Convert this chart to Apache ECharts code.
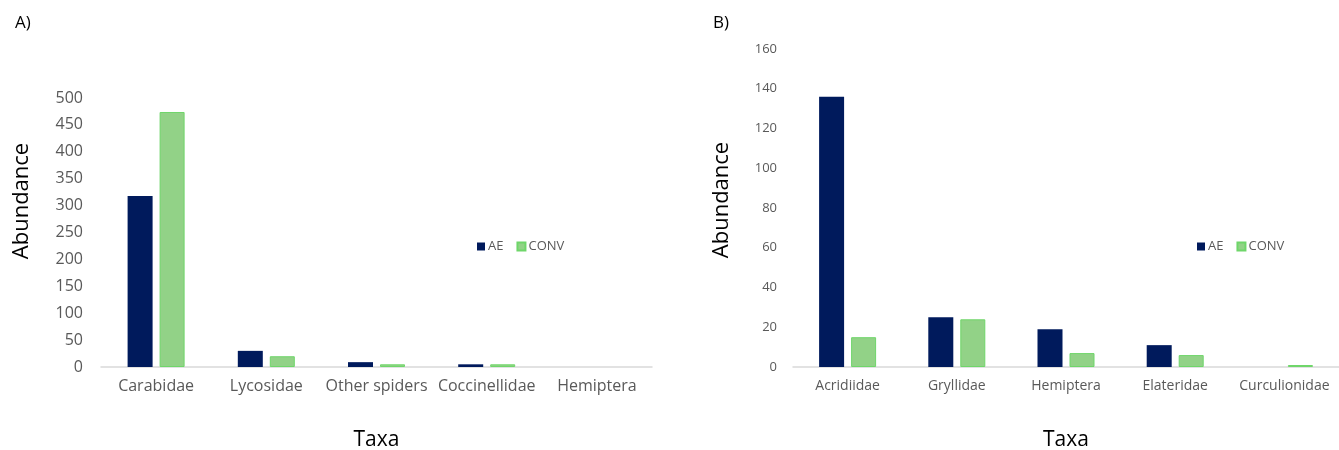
<!DOCTYPE html>
<html><head><meta charset="utf-8">
<script src="https://cdn.jsdelivr.net/npm/echarts@6/dist/echarts.min.js"></script>
<style>html,body{margin:0;padding:0;background:#fff;overflow:hidden}#c{width:1339px;height:450px}</style>
</head><body><div id="c"></div>
<script>
const seriesNames = ['AE', 'CONV'];
const catsA = ['Carabidae', 'Lycosidae', 'Other spiders', 'Coccinellidae', 'Hemiptera'];
const aeA = [318, 30, 9, 5, 0];
const convA = [474, 20, 5, 5, 0];
const catsB = ['Acridiidae', 'Gryllidae', 'Hemiptera', 'Elateridae', 'Curculionidae'];
const aeB = [136, 25, 19, 11, 0];
const convB = [15, 24, 7, 6, 1];

const AE_COLOR = '#001a5c';
const CONV_COLOR = '#92d287';
const CONV_BORDER = '#6fd66a';
const FONT = '"Open Sans", "Noto Sans", sans-serif';

const chart = echarts.init(document.getElementById('c'), null, {renderer: 'canvas', width: 1339, height: 450});

function yAxis(idx, max, interval, fs) {
  return {
    gridIndex: idx, type: 'value', min: 0, max: max, interval: interval,
    axisLine: {show: false}, axisTick: {show: false}, splitLine: {show: false},
    axisLabel: {fontFamily: FONT, fontSize: fs, color: '#595959', margin: idx === 0 ? 18 : 16}
  };
}
function xAxis(idx, cats, fs) {
  return {
    gridIndex: idx, type: 'category', data: cats,
    name: 'Taxa', nameLocation: 'middle', nameGap: 63,
    nameTextStyle: {fontFamily: FONT, fontSize: 21, color: '#000'},
    axisLine: {show: true, lineStyle: {color: '#d9d9d9', width: 1.5}},
    axisTick: {show: false},
    axisLabel: {fontFamily: FONT, fontSize: fs, color: '#595959', margin: idx === 0 ? 11 : 12, interval: 0}
  };
}
function bars(name, data, idx, color, border) {
  return {
    name: name, type: 'bar', xAxisIndex: idx, yAxisIndex: idx,
    data: data.map(v => border && v === 0 ? {value: v, itemStyle: {borderWidth: 0}} : v),
    barWidth: 25, barGap: '28%',
    itemStyle: {color: color, borderColor: border || color, borderWidth: border ? 1 : 0},
    emphasis: {disabled: true}
  };
}
function yTitle(x, y) {
  return {type: 'text', x: x, y: y, rotation: Math.PI / 2,
    style: {text: 'Abundance', fontFamily: FONT, fontSize: 22, fill: '#000', align: 'center', verticalAlign: 'middle'}};
}

chart.setOption({
  animation: false,
  backgroundColor: '#fff',
  title: [
    {text: 'A)', left: 10, top: 10, textStyle: {fontFamily: FONT, fontSize: 17, fontWeight: 'normal', color: '#000'}},
    {text: 'B)', left: 708, top: 10, textStyle: {fontFamily: FONT, fontSize: 17, fontWeight: 'normal', color: '#000'}}
  ],
  graphic: [yTitle(22, 201), yTitle(722, 200)],
  legend: [
    {data: seriesNames, left: 472, top: 235, itemWidth: 8, itemHeight: 8, itemGap: 13,
     textStyle: {fontFamily: FONT, fontSize: 13, color: '#595959', padding: [0, 0, 0, -2]}, icon: 'rect'},
    {data: seriesNames, left: 1192, top: 235, itemWidth: 8, itemHeight: 8, itemGap: 13,
     textStyle: {fontFamily: FONT, fontSize: 13, color: '#595959', padding: [0, 0, 0, -2]}, icon: 'rect'}
  ],
  grid: [
    {left: 101, width: 551, top: 98, height: 269, containLabel: false, outerBoundsMode: 'none'},
    {left: 793, width: 546, top: 49, height: 318, containLabel: false, outerBoundsMode: 'none'}
  ],
  xAxis: [xAxis(0, catsA, 16), xAxis(1, catsB, 14)],
  yAxis: [yAxis(0, 500, 50, 16), yAxis(1, 160, 20, 13)],
  series: [
    bars('AE', aeA, 0, AE_COLOR, null),
    bars('CONV', convA, 0, CONV_COLOR, CONV_BORDER),
    bars('AE', aeB, 1, AE_COLOR, null),
    bars('CONV', convB, 1, CONV_COLOR, CONV_BORDER)
  ]
});
</script></body></html>
